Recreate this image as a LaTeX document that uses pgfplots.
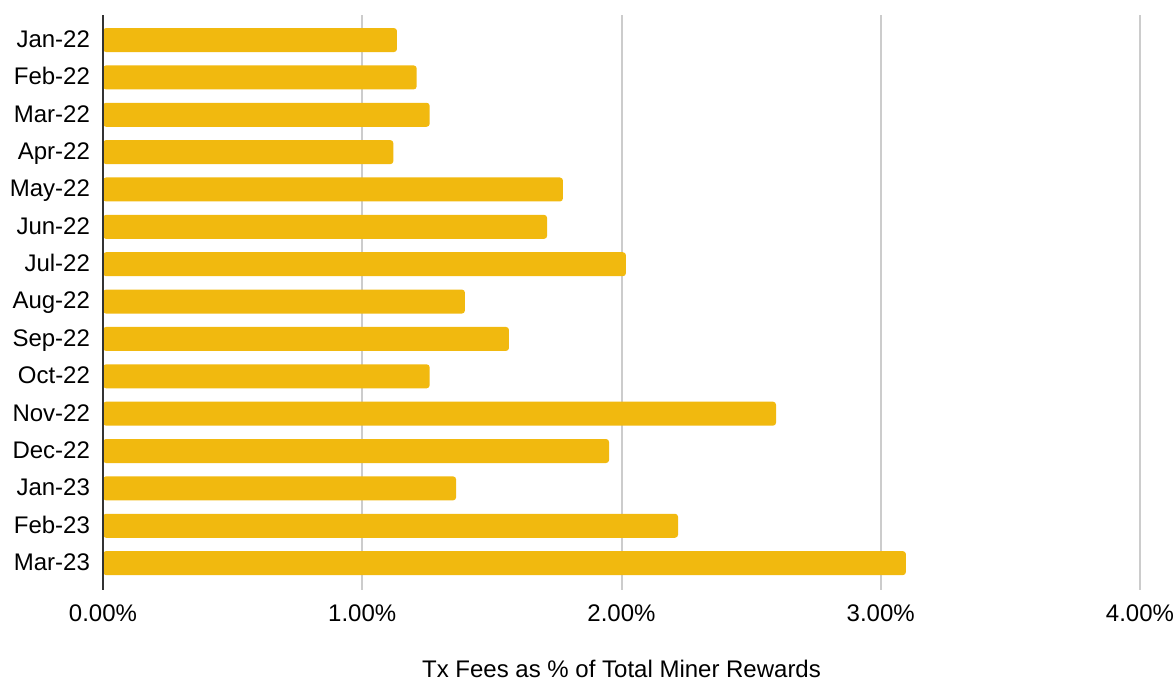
\documentclass[border=0pt]{standalone}
\usepackage{pgfplots}
\pgfplotsset{compat=1.18}
\usepackage{fontspec}
\setmainfont{Liberation Sans}
\definecolor{barcol}{HTML}{F1B90F}
\begin{document}
\begin{tikzpicture}[font=\fontsize{12pt}{14pt}\selectfont]
\useasboundingbox (-51.5pt,-46pt) rectangle (535pt,295pt);
\begin{axis}[
  at={(0,0)}, anchor=south west,
  scale only axis, width=518.5pt, height=287.5pt,
  xbar, bar width=12pt,
  xmin=0, xmax=4, ymin=-0.67, ymax=14.72, y dir=reverse,
  xtick={0,1,2,3,4},
  xticklabels={0.00\%,1.00\%,2.00\%,3.00\%,4.00\%},
  ytick={0,...,14},
  yticklabels={Jan-22,Feb-22,Mar-22,Apr-22,May-22,Jun-22,Jul-22,Aug-22,Sep-22,Oct-22,Nov-22,Dec-22,Jan-23,Feb-23,Mar-23},
  xmajorgrids, grid style={draw=black!20, line width=1pt},
  axis line style={draw=none},
  major tick length=0pt, tick style={draw=none},
  xticklabel style={yshift=-3pt, text height=1.7ex, text depth=0.3ex},
  yticklabel style={xshift=-3pt, text height=1.7ex, text depth=0.3ex},
  xlabel={Tx Fees as \% of Total Miner Rewards},
  xlabel style={at={(axis description cs:0.5,0)}, anchor=center, yshift=-39.5pt},
  clip=false,
]
\addplot[fill=barcol, draw=none, rounded corners=1.5pt] coordinates {
(1.134,0) (1.21,1) (1.26,2) (1.12,3) (1.774,4) (1.713,5) (2.017,6) (1.396,7)
(1.566,8) (1.26,9) (2.596,10) (1.952,11) (1.362,12) (2.218,13) (3.097,14)
};
\draw[black!80, line width=0.8pt] (axis cs:0,-0.67) -- (axis cs:0,14.72);
\end{axis}
\end{tikzpicture}
\end{document}
